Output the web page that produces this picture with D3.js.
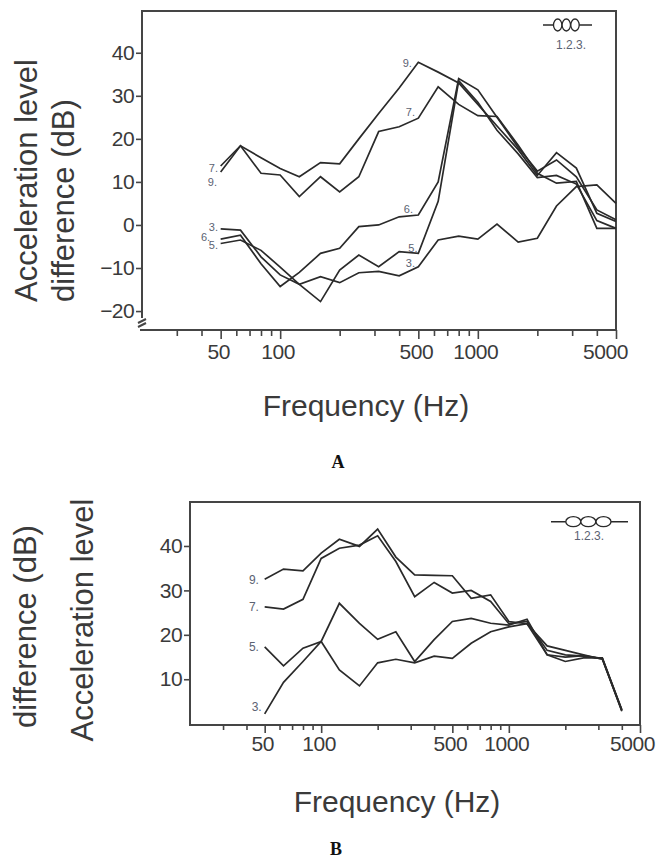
<!DOCTYPE html>
<html>
<head>
<meta charset="utf-8">
<script src="https://cdn.jsdelivr.net/npm/d3@7"></script>
<style>
  body { margin: 0; background: #fff; }
  svg { display: block; }
</style>
</head>
<body>
<svg id="chart" width="659" height="861"></svg>
<script>
// ---- data ----
const freqA = [50, 63, 80, 100, 125, 160, 200, 250, 315, 400, 500, 630, 800, 1000, 1250, 1600, 2000, 2500, 3150, 4000, 5000];
const a9 = [12.3, 18.4, 15.6, 13.1, 11.2, 14.5, 14.2, 20.0, 25.9, 31.8, 37.8, 35.5, 33.0, 28.0, 23.0, 17.5, 11.5, 16.8, 13.2, 2.7, 0.8];
const a7 = [13.7, 18.4, 12.0, 11.6, 6.6, 11.2, 7.7, 11.2, 21.7, 22.8, 24.8, 32.1, 28.0, 25.4, 25.2, 18.5, 12.0, 9.7, 10.1, -0.8, -0.8];
const a6 = [-3.3, -2.4, -9.0, -14.3, -11.0, -6.6, -5.4, -0.4, 0.0, 1.9, 2.3, 10.0, 34.0, 31.4, 25.0, 18.0, 12.5, 15.1, 11.2, 3.5, 1.2];
const a5 = [-4.3, -3.5, -5.9, -9.8, -13.8, -17.8, -10.5, -7.0, -9.7, -6.2, -6.6, 5.5, 33.5, 28.5, 22.0, 16.5, 11.0, 11.5, 9.5, 1.0, -0.8];
const a3 = [-0.9, -1.2, -7.4, -11.6, -13.8, -12.0, -13.4, -11.1, -10.8, -11.8, -9.7, -3.5, -2.6, -3.3, 0.2, -4.0, -3.1, 4.4, 8.9, 9.3, 5.0];

const freqB = [50, 63, 80, 100, 125, 160, 200, 250, 315, 400, 500, 630, 800, 1000, 1250, 1600, 2000, 2500, 3150, 4000];
const b9 = [32.5, 34.8, 34.4, 38.4, 41.5, 39.9, 43.8, 37.5, 33.5, 33.4, 33.3, 28.2, 29.0, 23.0, 22.5, 17.5, 16.5, 15.5, 14.5, 3.0];
const b7 = [26.3, 25.8, 28.0, 37.2, 39.5, 40.2, 42.3, 36.5, 28.6, 31.8, 29.4, 30.0, 27.5, 22.5, 23.0, 16.5, 15.5, 15.2, 14.7, 3.2];
const b5 = [17.3, 13.0, 17.0, 18.5, 27.1, 22.6, 19.0, 20.7, 14.0, 18.9, 23.0, 23.7, 22.6, 22.2, 23.5, 15.5, 14.0, 14.8, 14.8, 3.0];
const b3 = [2.2, 9.3, 14.0, 18.5, 12.1, 8.5, 13.7, 14.5, 13.7, 15.2, 14.7, 18.1, 20.7, 21.8, 22.5, 15.5, 15.0, 15.3, 14.6, 2.8];

const xTicks = [30, 40, 50, 60, 70, 80, 90, 100, 200, 300, 400, 500, 600, 700, 800, 900, 1000, 2000, 3000, 4000, 5000];
const xLabelled = [50, 100, 500, 1000, 5000];
const yTicksA = [-20, -10, 0, 10, 20, 30, 40];
const yTicksB = [10, 20, 30, 40];

// curve labels: [text, freq, value] where the label sits
const labelsA = [
  ["9.", 464, 37.6], ["7.", 481, 26.2], ["6.", 470, 3.7], ["5.", 495, -5.3], ["3.", 481, -8.8],
  ["7.", 48.5, 13.2], ["9.", 47.9, 10.0], ["3.", 48.5, -0.5], ["6.", 44.2, -2.8], ["5.", 48.5, -4.6]
];
const labelsB = [["9.", 46.6, 32.3], ["7.", 46.6, 26.2], ["5.", 46.6, 17.3], ["3.", 48.2, 3.8]];

const svg = d3.select("#chart");
const sans = "'Liberation Sans', Arial, sans-serif";
const ink = "#2a2a2a";
const textInk = "#3a3a3a";
const labelInk = "#5b6272";

function drawPanel(cfg) {
  const x = d3.scaleLog().domain([20, 5000]).range([cfg.left, cfg.right]);
  const y = d3.scaleLinear().domain(cfg.yDomain).range([cfg.bottom, cfg.top]);
  const g = svg.append("g");

  // frame
  g.append("path")
    .attr("d", cfg.framePath(cfg))
    .attr("fill", "none")
    .attr("stroke", "#454545")
    .attr("stroke-width", 2);

  // x axis
  const xa = g.append("g")
    .attr("transform", `translate(0,${cfg.bottom})`)
    .call(d3.axisBottom(x).tickValues(xTicks).tickSizeOuter(0)
      .tickFormat((d) => (xLabelled.includes(d) ? d : "")));
  xa.select(".domain").remove();
  xa.selectAll(".tick line")
    .attr("stroke", "#454545")
    .attr("stroke-width", 1.6)
    .attr("y2", (d) => (xLabelled.includes(d) ? cfg.majorTick : cfg.minorTick));
  xa.selectAll(".tick text")
    .attr("y", cfg.xLabelY)
    .attr("dx", (d) => (d === 5000 ? cfg.lastShift : -2.5))
    .attr("font-family", sans)
    .attr("font-size", 21)
    .attr("letter-spacing", -0.4)
    .attr("fill", textInk);

  // y axis
  const ya = g.append("g")
    .attr("transform", `translate(${cfg.left},0)`)
    .call(d3.axisLeft(y).tickValues(cfg.yTicks).tickSize(6).tickPadding(2));
  ya.select(".domain").remove();
  ya.selectAll(".tick line").attr("stroke", "#454545").attr("stroke-width", 1.6);
  ya.selectAll(".tick text")
    .attr("font-family", sans)
    .attr("font-size", 21)
    .attr("letter-spacing", -0.6)
    .attr("fill", textInk);

  // curves
  const line = d3.line().x((d) => x(d[0])).y((d) => y(d[1]));
  cfg.series.forEach((vals) => {
    g.append("path")
      .datum(cfg.freqs.map((f, i) => [f, vals[i]]))
      .attr("d", line)
      .attr("fill", "none")
      .attr("stroke", ink)
      .attr("stroke-width", 1.7)
      .attr("stroke-linejoin", "miter");
  });

  // curve labels
  g.selectAll(".clab")
    .data(cfg.labels)
    .join("text")
    .attr("x", (d) => x(d[1]))
    .attr("y", (d) => y(d[2]))
    .attr("dy", "0.35em")
    .attr("text-anchor", "end")
    .attr("font-family", sans)
    .attr("font-size", cfg.labelSize)
    .attr("fill", labelInk)
    .text((d) => d[0]);

  // legend
  const lg = cfg.legend;
  g.append("line")
    .attr("x1", lg.x1).attr("x2", lg.x2)
    .attr("y1", lg.y).attr("y2", lg.y)
    .attr("stroke", ink).attr("stroke-width", 1.5);
  lg.cx.forEach((cx) => {
    g.append("ellipse")
      .attr("cx", cx).attr("cy", lg.y)
      .attr("rx", lg.rx).attr("ry", lg.ry)
      .attr("fill", "#fff")
      .attr("stroke", ink)
      .attr("stroke-width", 1.3);
  });
  g.append("text")
    .attr("x", lg.tx).attr("y", lg.ty)
    .attr("text-anchor", "middle")
    .attr("font-family", sans)
    .attr("font-size", 12)
    .attr("fill", labelInk)
    .text("1.2.3.");

  // axis titles
  g.append("text")
    .attr("x", cfg.xTitle[0]).attr("y", cfg.xTitle[1])
    .attr("text-anchor", "middle")
    .attr("font-family", sans)
    .attr("font-size", 30)
    .attr("fill", textInk)
    .text("Frequency (Hz)");

  cfg.yTitles.forEach((t) => {
    g.append("text")
      .attr("transform", `translate(${t.x},${t.y}) rotate(-90)`)
      .attr("text-anchor", t.anchor)
      .attr("font-family", sans)
      .attr("font-size", 31)
      .attr("fill", textInk)
      .text(t.text);
  });

  // panel letter
  g.append("text")
    .attr("x", cfg.letter[1]).attr("y", cfg.letter[2])
    .attr("text-anchor", "middle")
    .attr("font-family", "'Liberation Serif', 'Times New Roman', serif")
    .attr("font-weight", "bold")
    .attr("font-size", 18)
    .attr("fill", "#111")
    .text(cfg.letter[0]);
}

// panel A (with a broken left axis)
drawPanel({
  left: 142, right: 616, top: 11, bottom: 330,
  yDomain: [-24.4, 49.7], yTicks: yTicksA,
  freqs: freqA, series: [a9, a7, a6, a5, a3],
  labels: labelsA, labelSize: 11,
  majorTick: 9, minorTick: 6, xLabelY: 14.5, lastShift: -11,
  framePath: (c) =>
    `M${c.left},318 L${c.left},${c.top} L${c.right},${c.top} L${c.right},${c.bottom} L${c.left - 2},${c.bottom}` +
    ` M${c.left - 4},323 L${c.left + 4},319 M${c.left - 4},327 L${c.left + 4},323`,
  legend: { x1: 543, x2: 592, y: 25, cx: [557.7, 566.3, 575], rx: 4.2, ry: 6, tx: 571, ty: 49 },
  xTitle: [366, 416],
  yTitles: [
    { text: "Acceleration level", x: 37, y: 302, anchor: "start" },
    { text: "difference (dB)", x: 74, y: 302, anchor: "start" }
  ],
  letter: ["A", 338, 468]
});

// panel B
drawPanel({
  left: 190, right: 640, top: 502, bottom: 725,
  yDomain: [-0.3, 49.9], yTicks: yTicksB,
  freqs: freqB, series: [b9, b7, b5, b3],
  labels: labelsB, labelSize: 12,
  majorTick: 8, minorTick: 5, xLabelY: 10.6, lastShift: -8,
  framePath: (c) =>
    `M${c.left},${c.top} L${c.right},${c.top} L${c.right},${c.bottom} L${c.left},${c.bottom} Z`,
  legend: { x1: 551, x2: 628, y: 521.7, cx: [573.3, 588.3, 603.5], rx: 7.5, ry: 5, tx: 589, ty: 540 },
  xTitle: [397, 812],
  yTitles: [
    { text: "difference (dB)", x: 36, y: 626.5, anchor: "middle" },
    { text: "Acceleration level", x: 93, y: 620, anchor: "middle" }
  ],
  letter: ["B", 336, 855]
});
</script>
</body>
</html>
